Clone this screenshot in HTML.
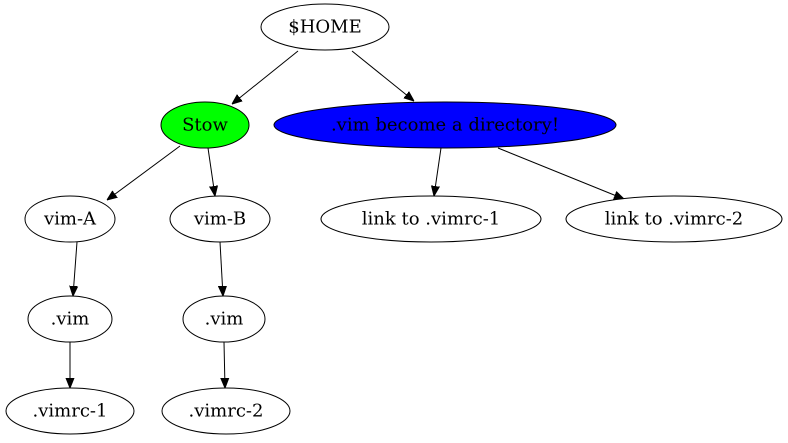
<!DOCTYPE html>
<html><head><meta charset="utf-8"><style>
html,body{margin:0;padding:0;background:#fff;}
svg{display:block;}
text{font-family:"DejaVu Serif",serif;font-size:18px;fill:#000;text-anchor:middle;dominant-baseline:central;}
ellipse{stroke:#000;stroke-width:1;fill:#fff;}
line{stroke:#000;stroke-width:1;}
</style></head><body>
<svg width="788" height="443" viewBox="0 0 788 443" xmlns="http://www.w3.org/2000/svg">
<defs><marker id="a" viewBox="0 0 10 10" refX="10" refY="5" markerWidth="10" markerHeight="10" markerUnits="userSpaceOnUse" orient="auto"><path d="M0,1 L10,5 L0,9 z" fill="#000" stroke="#000"/></marker></defs>
<line x1="298" y1="51" x2="232" y2="104" marker-end="url(#a)"/>
<line x1="352" y1="51" x2="414" y2="101" marker-end="url(#a)"/>
<line x1="180" y1="146" x2="107" y2="200" marker-end="url(#a)"/>
<line x1="208" y1="148" x2="215" y2="196" marker-end="url(#a)"/>
<line x1="441" y1="148" x2="434" y2="196" marker-end="url(#a)"/>
<line x1="498" y1="148" x2="624" y2="199" marker-end="url(#a)"/>
<line x1="77" y1="242" x2="73" y2="296" marker-end="url(#a)"/>
<line x1="220" y1="242" x2="223" y2="296" marker-end="url(#a)"/>
<line x1="70" y1="342" x2="70" y2="388" marker-end="url(#a)"/>
<line x1="224" y1="342" x2="225" y2="388" marker-end="url(#a)"/>
<ellipse cx="325" cy="27" rx="64" ry="23"/><text x="325" y="27">$HOME</text>
<ellipse cx="205" cy="125" rx="44" ry="23" style="fill:#00ff00"/><text x="205" y="125">Stow</text>
<ellipse cx="445" cy="125" rx="171" ry="23" style="fill:#0000ff"/><text x="445" y="125">.vim become a directory!</text>
<ellipse cx="70" cy="219" rx="45" ry="23"/><text x="70" y="219">vim-A</text>
<ellipse cx="220" cy="219" rx="50" ry="23"/><text x="220" y="219">vim-B</text>
<ellipse cx="431" cy="219" rx="110" ry="23"/><text x="431" y="219">link to .vimrc-1</text>
<ellipse cx="674" cy="219" rx="108" ry="23"/><text x="674" y="219">link to .vimrc-2</text>
<ellipse cx="70" cy="319" rx="42" ry="23"/><text x="70" y="319">.vim</text>
<ellipse cx="224" cy="319" rx="41" ry="23"/><text x="224" y="319">.vim</text>
<ellipse cx="70" cy="411" rx="64" ry="23"/><text x="70" y="411">.vimrc-1</text>
<ellipse cx="226" cy="411" rx="64" ry="23"/><text x="226" y="411">.vimrc-2</text>
</svg>
</body></html>
